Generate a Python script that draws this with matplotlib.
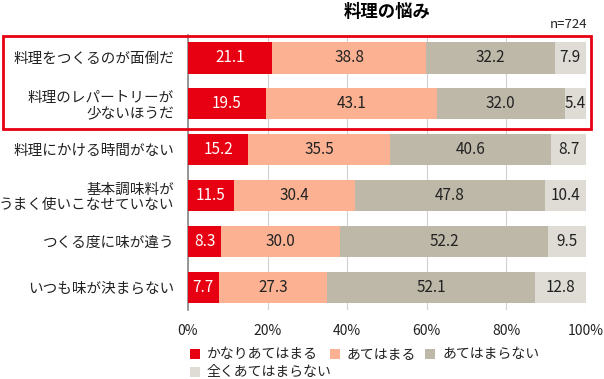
import matplotlib
matplotlib.use("Agg")
import matplotlib.pyplot as plt
from matplotlib.patches import Rectangle
import numpy as np

plt.rcParams['font.family'] = ['Noto Sans CJK JP', 'DejaVu Sans']

categories = ["料理をつくるのが面倒だ", "料理のレパートリーが\n少ないほうだ", "料理にかける時間がない",
              "基本調味料が\nうまく使いこなせていない", "つくる度に味が違う", "いつも味が決まらない"]
series_names = ["かなりあてはまる", "あてはまる", "あてはまらない", "全くあてはまらない"]
very = [21.1, 19.5, 15.2, 11.5, 8.3, 7.7]
somewhat = [38.8, 43.1, 35.5, 30.4, 30.0, 27.3]
not_really = [32.2, 32.0, 40.6, 47.8, 52.2, 52.1]
not_at_all = [7.9, 5.4, 8.7, 10.4, 9.5, 12.8]
xticks = [0, 20, 40, 60, 80, 100]
colors = ["#E60012", "#FCB292", "#BEB8A8", "#DEDCD5"]
text_colors = ["white", "#222222", "#222222", "#222222"]

fig = plt.figure(figsize=(6.04, 3.79), dpi=100)
ax = fig.add_axes([188/604, 1-310/379, 398/604, 275/379])

data = [very, somewhat, not_really, not_at_all]
y = np.arange(len(categories))
left = np.zeros(len(categories))
for vals, c, tc in zip(data, colors, text_colors):
    vals = np.array(vals)
    ax.barh(y, vals, left=left, height=0.68, color=c, zorder=3)
    for yi, (l, v) in enumerate(zip(left, vals)):
        ax.text(l + v/2, yi, f"{v:.1f}", ha="center", va="center", color=tc, fontsize=11, zorder=4)
    left += vals

ax.set_xlim(0, 100)
ax.set_ylim(len(categories)-0.5, -0.5)
ax.set_yticks(y)
ax.set_yticklabels(categories, fontsize=10.5, color="#222222", linespacing=1.1)
ax.set_xticks(xticks)
ax.set_xticklabels([f"{t}%" for t in xticks], fontsize=10, color="#222222")
ax.tick_params(axis='y', length=0, pad=10)
ax.tick_params(axis='x', length=0, pad=10)
ax.grid(axis='x', color="#D0D0D0", linewidth=0.8, zorder=0)
for s in ["top", "right", "bottom"]:
    ax.spines[s].set_visible(False)
ax.spines["left"].set_color("#888888")
ax.spines["left"].set_linewidth(1.2)

fig.text(387/604, 1-12/379, "料理の悩み", ha="center", va="center", fontsize=12.5, fontweight="bold")
fig.text(587/604, 1-24/379, "n=724", ha="right", va="center", fontsize=9.5, color="#222222")

# highlight box
fig.add_artist(Rectangle((3/604, 1-129/379), 588/604, 93/379, transform=fig.transFigure,
                         fill=False, edgecolor="#E60012", linewidth=2))

# legend
leg_pos = [(190, 354), (330, 354), (425, 354), (190, 372)]
for name, c, (lx, ly) in zip(series_names, colors, leg_pos):
    fig.add_artist(Rectangle((lx/604, 1-(ly+5)/379), 10/604, 10/379, transform=fig.transFigure,
                             facecolor=c, edgecolor="none"))
    fig.text((lx+17)/604, 1-ly/379, name, ha="left", va="center", fontsize=10, color="#222222")

fig.savefig("out.png", dpi=100)
